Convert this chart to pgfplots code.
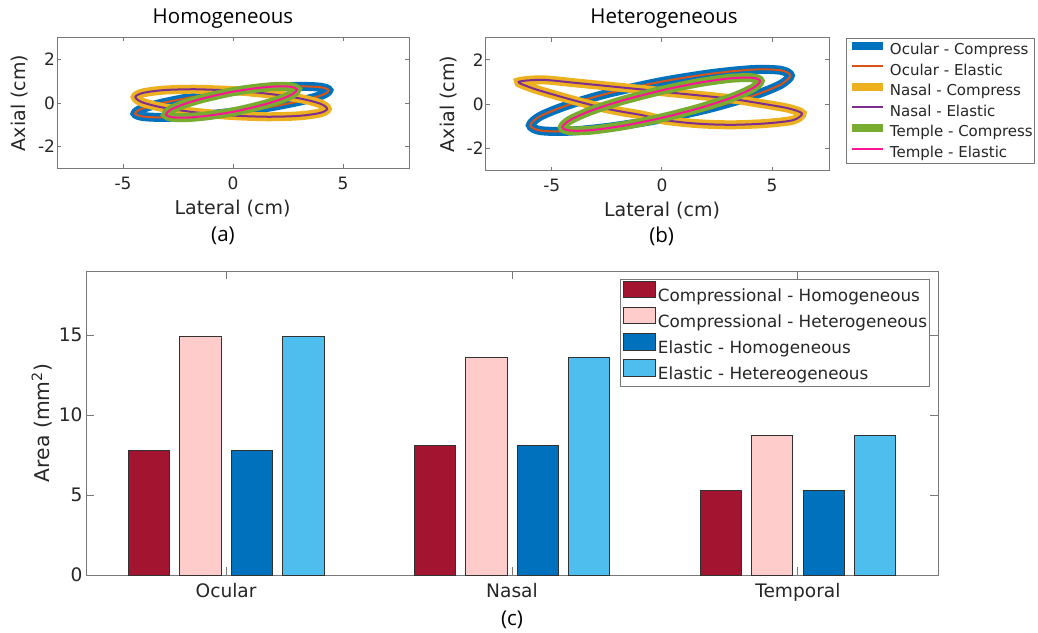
\documentclass[border=0pt]{standalone}
\usepackage{fontspec}
\setmainfont{DejaVu Sans}
\newfontfamily\titlefont{Open Sans}
\usepackage{pgfplots}
\usepackage{pgfplotstable}
\pgfplotsset{compat=1.18}

\definecolor{cblue}{RGB}{0,114,189}
\definecolor{corange}{RGB}{217,83,25}
\definecolor{cyellow}{RGB}{237,177,32}
\definecolor{cpurple}{RGB}{126,47,142}
\definecolor{cgreen}{RGB}{119,172,48}
\definecolor{cpink}{RGB}{255,20,147}
\definecolor{bdred}{RGB}{162,20,47}
\definecolor{bpink}{RGB}{255,204,204}
\definecolor{bblue}{RGB}{0,114,189}
\definecolor{blblue}{RGB}{77,190,238}
\definecolor{axgray}{RGB}{120,120,120}
\definecolor{txt}{RGB}{38,38,38}
\definecolor{edge}{RGB}{50,50,50}

\pgfplotstableread{
x y
-0.11 0.52
-1.79 0.28
-3.20 0.00
-4.14 -0.26
-4.45 -0.48
-4.09 -0.62
-3.12 -0.66
-1.68 -0.59
0.01 -0.42
1.69 -0.18
3.10 0.10
4.04 0.36
4.35 0.58
3.99 0.72
3.02 0.76
1.58 0.69
-0.11 0.52
-1.79 0.28
}\ocuhom

\pgfplotstableread{
x y
-0.05 0.57
-1.72 0.63
-3.14 0.59
-4.10 0.46
-4.44 0.27
-4.12 0.03
-3.19 -0.21
-1.78 -0.42
-0.11 -0.57
1.56 -0.63
2.98 -0.59
3.94 -0.46
4.28 -0.27
3.96 -0.03
3.03 0.21
1.62 0.42
-0.05 0.57
-1.72 0.63
}\nashom

\pgfplotstableread{
x y
-0.16 0.49
-1.29 0.23
-2.23 -0.05
-2.85 -0.32
-3.05 -0.53
-2.79 -0.65
-2.11 -0.67
-1.13 -0.58
0.02 -0.40
1.15 -0.14
2.09 0.14
2.71 0.41
2.91 0.62
2.65 0.74
1.97 0.76
0.99 0.67
-0.16 0.49
-1.29 0.23
}\temhom

\pgfplotstableread{
x y
-0.07 1.01
-2.33 0.52
-4.24 -0.03
-5.52 -0.54
-5.97 -0.95
-5.52 -1.19
-4.24 -1.22
-2.33 -1.03
-0.07 -0.67
2.19 -0.18
4.10 0.37
5.38 0.88
5.83 1.29
5.38 1.53
4.10 1.56
2.19 1.37
-0.07 1.01
-2.33 0.52
}\ocuhet

\pgfplotstableread{
x y
-0.87 0.66
-2.39 0.81
-3.91 0.96
-5.43 1.10
-6.50 1.01
-6.04 0.78
-5.43 0.58
-3.91 0.15
-2.39 -0.23
-0.87 -0.50
0.12 -0.72
1.64 -0.88
3.17 -0.93
4.69 -0.87
5.95 -0.72
6.36 -0.42
5.75 -0.19
4.69 0.00
3.17 0.24
1.64 0.40
0.12 0.55
-0.87 0.66
-2.39 0.81
}\nashet

\pgfplotstableread{
x y
-0.03 0.62
-1.75 0.18
-3.21 -0.29
-4.18 -0.72
-4.52 -1.04
-4.18 -1.19
-3.21 -1.17
-1.75 -0.97
-0.03 -0.62
1.69 -0.18
3.15 0.29
4.12 0.72
4.46 1.04
4.12 1.19
3.15 1.17
1.69 0.97
-0.03 0.62
-1.75 0.18
}\temhet

\pgfplotsset{
  mybox/.style={
    scale only axis, anchor=south west,
    axis line style={draw=axgray, line width=0.9pt},
    tick style={draw=axgray, line width=0.9pt},
    tick align=inside,
    /pgf/number format/assume math mode=true,
  },
  topplot/.style={
    mybox,
    ymin=-3, ymax=3, xtick={-5,0,5}, ytick={-2,0,2},
    major tick length=4pt,
    every tick label/.append style={font=\fontsize{17}{17}\selectfont, text=txt},
    xticklabel style={yshift=-5pt},
    yticklabel style={xshift=1.5pt},
  },
  compress/.style={line width=9pt, smooth, no markers},
  elastic/.style={line width=2pt, smooth, no markers},
}

\begin{document}
\begin{tikzpicture}
\useasboundingbox (0,0) rectangle (1038pt,632pt);

% ---------- (a) homogeneous ----------
\begin{axis}[topplot, at={(57pt,463.5pt)}, width=352pt, height=131pt,
  xmin=-8, xmax=8]
\addplot[compress, cblue] table {\ocuhom};
\addplot[elastic, corange] table {\ocuhom};
\addplot[compress, cyellow] table {\nashom};
\addplot[elastic, cpurple] table {\nashom};
\addplot[compress, cgreen] table {\temhom};
\addplot[elastic, cpink] table {\temhom};
\end{axis}

% ---------- (b) heterogeneous ----------
\begin{axis}[topplot, at={(485.7pt,461.3pt)}, width=343.6pt, height=133pt,
  xmin=-8, xmax=7.6,
  legend cell align=left,
  legend image code/.code={\draw[#1, line cap=butt, line width=\pgfkeysvalueof{/pgfplots/legline}] (0pt,4pt) -- (31pt,4pt);},
  legline/.initial=8pt,
  legend style={at={(1.0486,0.998)}, anchor=north west, draw=axgray, line width=0.9pt,
    font=\fontsize{15}{15}\selectfont, text=txt,
    inner xsep=2pt, inner ysep=1pt, row sep=0pt,
    nodes={inner sep=0pt, text height=15.2pt, text depth=5.37pt},
    /tikz/every odd column/.style={column sep=2.5pt}},
  ]
\addplot[compress, cblue, legline=8pt] table {\ocuhet};
\addlegendentry{Ocular - Compress}
\addplot[elastic, corange, legline=2pt] table {\ocuhet};
\addlegendentry{Ocular - Elastic}
\addplot[compress, cyellow, legline=8pt] table {\nashet};
\addlegendentry{Nasal - Compress}
\addplot[elastic, cpurple, legline=2pt] table {\nashet};
\addlegendentry{Nasal - Elastic}
\addplot[compress, cgreen, legline=8pt] table {\temhet};
\addlegendentry{Temple - Compress}
\addplot[elastic, cpink, legline=2pt] table {\temhet};
\addlegendentry{Temple - Elastic}
\end{axis}

% ---------- (c) bar chart ----------
\begin{axis}[mybox, at={(86pt,57pt)}, width=852pt, height=304pt,
  xmin=0.51, xmax=3.49, ymin=0, ymax=19,
  xtick={1,2,3}, xticklabels={Ocular,Nasal,Temporal},
  ytick={0,5,10,15},
  major tick length=8pt,
  every tick label/.append style={font=\fontsize{18.6}{18.6}\selectfont, text=txt},
  xticklabel style={yshift=-5pt},
  legend cell align=left,
  legend image code/.code={\draw[#1] (0pt,-1.8pt) rectangle (31.6pt,14.8pt);},
  legend style={at={(0.6268,0.9727)}, anchor=north west, draw=axgray, line width=0.9pt,
    font=\fontsize{16.8}{16.8}\selectfont, text=txt,
    inner xsep=2.7pt, inner ysep=1pt, row sep=0pt,
    nodes={inner sep=0pt, text height=16.5pt, text depth=5.35pt},
    /tikz/every odd column/.style={column sep=2.4pt}},
  ]
\addplot[ybar, bar width=0.1444, bar shift=-0.27, fill=bdred, draw=edge, line width=0.8pt]
  coordinates {(1,7.79) (2,8.12) (3,5.27)};
\addlegendentry{Compressional - Homogeneous}
\addplot[ybar, bar width=0.1444, bar shift=-0.09, fill=bpink, draw=edge, line width=0.8pt]
  coordinates {(1,14.92) (2,13.58) (3,8.71)};
\addlegendentry{Compressional - Heterogeneous}
\addplot[ybar, bar width=0.1444, bar shift=0.09, fill=bblue, draw=edge, line width=0.8pt]
  coordinates {(1,7.79) (2,8.12) (3,5.27)};
\addlegendentry{Elastic - Homogeneous}
\addplot[ybar, bar width=0.1444, bar shift=0.27, fill=blblue, draw=edge, line width=0.8pt]
  coordinates {(1,14.92) (2,13.58) (3,8.71)};
\addlegendentry{Elastic - Hetereogeneous}
\end{axis}

% ---------- titles, labels, captions ----------
\node[font=\titlefont\fontsize{20.5}{20.5}\selectfont] at (223pt,613pt) {Homogeneous};
\node[font=\titlefont\fontsize{20.5}{20.5}\selectfont] at (664pt,613pt) {Heterogeneous};
\node[font=\titlefont\fontsize{20.5}{20.5}\selectfont] at (223pt,396pt) {(a)};
\node[font=\titlefont\fontsize{20.5}{20.5}\selectfont] at (661.7pt,396pt) {(b)};
\node[font=\titlefont\fontsize{20.5}{20.5}\selectfont] at (512pt,12pt) {(c)};

\node[font=\fontsize{19}{19}\selectfont, text=txt] at (232.5pt,423pt) {Lateral (cm)};
\node[font=\fontsize{19}{19}\selectfont, text=txt] at (662pt,421.5pt) {Lateral (cm)};
\node[font=\fontsize{19}{19}\selectfont, text=txt, rotate=90] at (20pt,529pt) {Axial (cm)};
\node[font=\fontsize{19}{19}\selectfont, text=txt, rotate=90] at (449pt,528pt) {Axial (cm)};
\node[font=\fontsize{20.3}{20.3}\selectfont, text=txt, rotate=90] at (42pt,209pt) {Area (mm\textsuperscript{2})};
\end{tikzpicture}
\end{document}
